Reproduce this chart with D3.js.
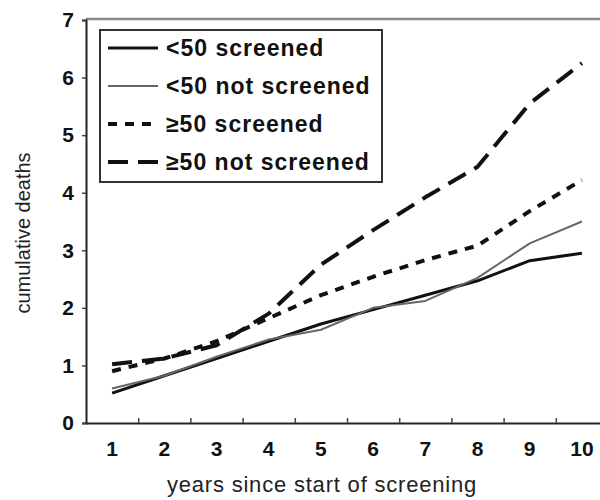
<!DOCTYPE html>
<html>
<head>
<meta charset="utf-8">
<script src="https://cdn.jsdelivr.net/npm/d3@7"></script>
<style>
  body { margin: 0; background: #fff; }
  svg { font-family: "Liberation Sans", Arial, sans-serif; }
</style>
</head>
<body>
<div id="vis"></div>
<script>
// years since start of screening
var years = [1, 2, 3, 4, 5, 6, 7, 8, 9, 10];

// cumulative deaths
var under50Screened    = [0.52, 0.82, 1.12, 1.42, 1.72, 1.97, 2.22, 2.47, 2.82, 2.95];
var under50NotScreened = [0.60, 0.82, 1.15, 1.45, 1.62, 2.00, 2.12, 2.52, 3.12, 3.50];
var over50Screened     = [0.90, 1.12, 1.42, 1.82, 2.22, 2.54, 2.83, 3.08, 3.68, 4.22];
var over50NotScreened  = [1.02, 1.12, 1.35, 1.90, 2.75, 3.35, 3.92, 4.45, 5.55, 6.25];

var seriesNames = ["<50 screened", "<50 not screened", "\u226550 screened", "\u226550 not screened"];
var yTicks = [0, 1, 2, 3, 4, 5, 6, 7];

var width = 600, height = 500;
var margin = {top: 20, left: 86, bottom: 77};

var series = [
  {name: seriesNames[0], values: under50Screened,    color: "#111", w: 3,   dash: null},
  {name: seriesNames[1], values: under50NotScreened, color: "#666", w: 2,   dash: null},
  {name: seriesNames[2], values: over50Screened,     color: "#111", w: 4,   dash: "9,8"},
  {name: seriesNames[3], values: over50NotScreened,  color: "#111", w: 4,   dash: "20,10"}
];

var svg = d3.select("#vis").append("svg")
    .attr("width", width)
    .attr("height", height);

var x = d3.scaleBand()
    .domain(years)
    .range([margin.left, margin.left + 10 * 52.2])
    .padding(0);

var xb = d3.scaleLinear()
    .domain([0, years.length])
    .range(x.range());

var y = d3.scaleLinear()
    .domain([0, 7])
    .range([height - margin.bottom, margin.top]);

// top border of plot area
svg.append("line")
    .attr("x1", margin.left).attr("x2", width)
    .attr("y1", y(7) - 1).attr("y2", y(7) - 1)
    .attr("stroke", "#888").attr("stroke-width", 2.5);

// y axis
svg.append("g")
    .attr("transform", `translate(${margin.left},0)`)
    .call(d3.axisLeft(y).tickValues(yTicks).tickFormat(d3.format("d")).tickSize(4).tickPadding(8))
    .call(g => g.select(".domain").attr("stroke", "#222").attr("stroke-width", 2))
    .call(g => g.selectAll(".tick line").attr("stroke", "#444").attr("stroke-width", 1.5))
    .call(g => g.selectAll("text").attr("font-size", 21).attr("font-weight", "bold").attr("fill", "#111"));

// x axis: category labels
svg.append("g")
    .attr("transform", `translate(0,${y(0)})`)
    .call(d3.axisBottom(x).tickSize(0).tickPadding(18))
    .call(g => g.select(".domain").attr("stroke", "#222").attr("stroke-width", 2))
    .call(g => g.selectAll("text").attr("font-size", 21).attr("font-weight", "bold").attr("fill", "#111"));

// x axis: tick marks between categories, pointing up
svg.append("g")
    .attr("transform", `translate(0,${y(0)})`)
    .call(d3.axisBottom(xb).tickValues(d3.range(1, years.length)).tickSize(-5).tickFormat(""))
    .call(g => g.select(".domain").remove())
    .call(g => g.selectAll(".tick line").attr("stroke", "#444").attr("stroke-width", 1.5));

// axis titles
svg.append("text")
    .attr("x", 322).attr("y", 492)
    .attr("text-anchor", "middle")
    .attr("font-size", 22)
    .attr("letter-spacing", 0.8)
    .attr("fill", "#222")
    .text("years since start of screening");

svg.append("text")
    .attr("transform", "translate(30,233) rotate(-90)")
    .attr("text-anchor", "middle")
    .attr("font-size", 20)
    .attr("fill", "#222")
    .text("cumulative deaths");

// lines
var line = d3.line()
    .x((d, i) => x(years[i]) + x.bandwidth() / 2)
    .y(d => y(d));

svg.append("g")
  .selectAll("path")
  .data(series)
  .join("path")
    .attr("fill", "none")
    .attr("stroke", d => d.color)
    .attr("stroke-width", d => d.w)
    .attr("stroke-dasharray", d => d.dash)
    .attr("stroke-linejoin", "round")
    .attr("d", d => line(d.values));

// legend
var legend = svg.append("g").attr("transform", "translate(100,30)");

legend.append("rect")
    .attr("width", 282).attr("height", 152)
    .attr("fill", "#fff")
    .attr("stroke", "#333").attr("stroke-width", 2);

var item = legend.selectAll("g.item")
  .data(series)
  .join("g")
    .attr("class", "item")
    .attr("transform", (d, i) => `translate(0,${18 + i * 38})`);

item.append("line")
    .attr("x1", 8).attr("x2", 58)
    .attr("stroke", d => d.color)
    .attr("stroke-width", d => d.w)
    .attr("stroke-dasharray", d => d.dash);

item.append("text")
    .attr("x", 66)
    .attr("dy", "0.35em")
    .attr("font-size", 23)
    .attr("font-weight", "bold")
    .attr("letter-spacing", 1)
    .attr("fill", "#111")
    .text(d => d.name);
</script>
</body>
</html>
